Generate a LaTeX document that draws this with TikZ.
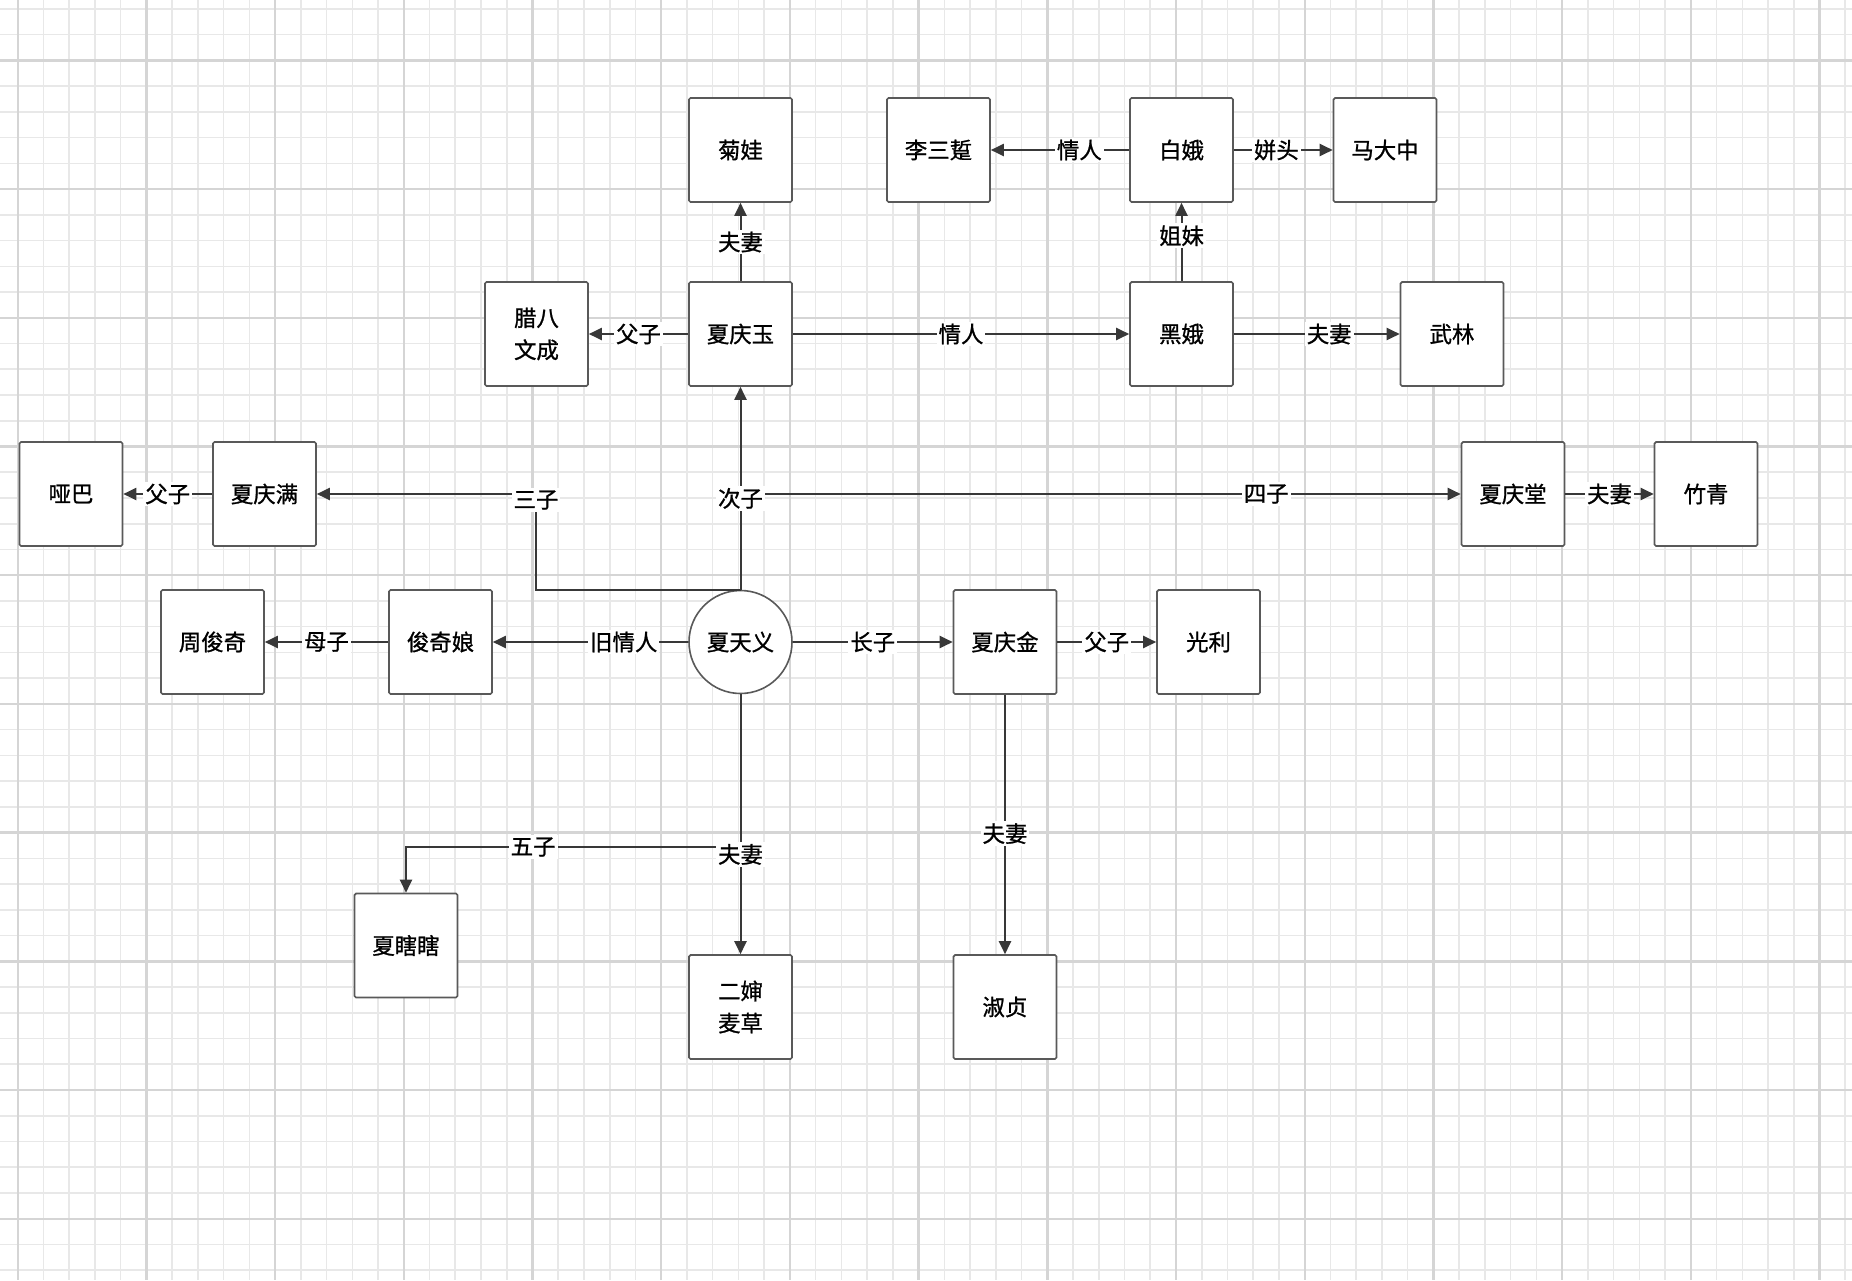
\documentclass[tikz,border=0pt]{standalone}
\usepackage{fontspec}
\setmainfont{Noto Sans CJK SC}[FakeBold=1]
\usepackage{tikz}
\usetikzlibrary{arrows.meta}

\begin{document}
\begin{tikzpicture}[x=0.5pt,y=-0.5pt,
  person/.style={draw=black!65,fill=white,line width=0.8pt,rounded corners=0.8pt,
    minimum width=51.5pt,minimum height=52pt,inner sep=0pt,align=center,
    font=\fontsize{11.2}{16}\selectfont},
  root/.style={person,circle,minimum size=51.5pt},
  rel/.style={draw=black!78,line width=1pt,-{Triangle[length=6.5pt,width=6pt]}},
  tag/.style={fill=white,inner sep=1pt,font=\fontsize{11.2}{13}\selectfont}]
\fill[white] (0,0) rectangle (1852,1280);
\useasboundingbox (0,0) rectangle (1852,1280);
\foreach \k in {0,...,71} \draw[gray!18,line width=0.8pt] ({17.7+25.74*\k},0) -- ++(0,1280);
\foreach \k in {-2,...,47} \draw[gray!18,line width=0.8pt] (0,{60.4+25.74*\k}) -- ++(1852,0);
\foreach \k in {0,...,14} \draw[gray!33,line width=1.2pt] ({17.7+128.7*\k},0) -- ++(0,1280);
\foreach \k in {0,...,9} \draw[gray!33,line width=1.2pt] (0,{60.4+128.7*\k}) -- ++(1852,0);

\node[person] (juwa) at (740.5,150) {菊娃};
\node[person] (lisan) at (938.5,150) {李三踅};
\node[person] (baie) at (1181.5,150) {白娥};
\node[person] (mada) at (1385,150) {马大中};
\node[person] (laba) at (536.5,334) {腊八\\文成};
\node[person] (qingyu) at (740.5,334) {夏庆玉};
\node[person] (heie) at (1181.5,334) {黑娥};
\node[person] (wulin) at (1452,334) {武林};
\node[person] (yaba) at (71,494) {哑巴};
\node[person] (qingman) at (264.5,494) {夏庆满};
\node[person] (qingtang) at (1513,494) {夏庆堂};
\node[person] (zhuqing) at (1706,494) {竹青};
\node[person] (junqi) at (212.5,642) {周俊奇};
\node[person] (junniang) at (440.5,642) {俊奇娘};
\node[root] (tianyi) at (740.5,642) {夏天义};
\node[person] (qingjin) at (1005,642) {夏庆金};
\node[person] (guangli) at (1208.5,642) {光利};
\node[person] (xiaxia) at (406,945.5) {夏瞎瞎};
\node[person] (ershen) at (740.5,1007) {二婶\\麦草};
\node[person] (shuzhen) at (1005,1007) {淑贞};
\coordinate (sanbend) at (536,494);
\coordinate (wubend) at (406,847);

\draw[rel] (qingyu) -- node[tag]{夫妻} (juwa);
\draw[rel] (qingyu) -- node[tag]{父子} (laba);
\draw[rel] (qingyu) -- node[tag]{情人} (heie);
\draw[rel] (baie) -- node[tag,pos=0.36]{情人} (lisan);
\draw[rel] (baie) -- node[tag,pos=0.43]{姘头} (mada);
\draw[rel] (heie) -- node[tag,pos=0.58]{姐妹} (baie);
\draw[rel] (heie) -- node[tag,pos=0.575]{夫妻} (wulin);
\draw[rel] (tianyi.north) |- node[tag,pos=0.865]{四子} (qingtang);
\draw[rel] (tianyi.north) -| node[tag,pos=1,yshift=-3pt]{三子} (sanbend) -- (qingman);
\draw[rel] (tianyi) -- node[tag,pos=0.45]{次子} (qingyu);
\draw[rel] (qingman) -- node[tag]{父子} (yaba);
\draw[rel] (qingtang) -- node[tag]{夫妻} (zhuqing);
\draw[rel] (tianyi) -- node[tag,pos=0.33]{旧情人} (junniang);
\draw[rel] (junniang) -- node[tag]{母子} (junqi);
\draw[rel] (tianyi) -- node[tag]{长子} (qingjin);
\draw[rel] (qingjin) -- node[tag]{父子} (guangli);
\draw[rel] (qingjin) -- node[tag,pos=0.535]{夫妻} (shuzhen);
\draw[rel] (tianyi.south) |- node[tag,pos=0.81]{五子} (wubend) -- (xiaxia);
\draw[rel] (tianyi) -- node[tag,pos=0.616]{夫妻} (ershen);

\end{tikzpicture}
\end{document}
